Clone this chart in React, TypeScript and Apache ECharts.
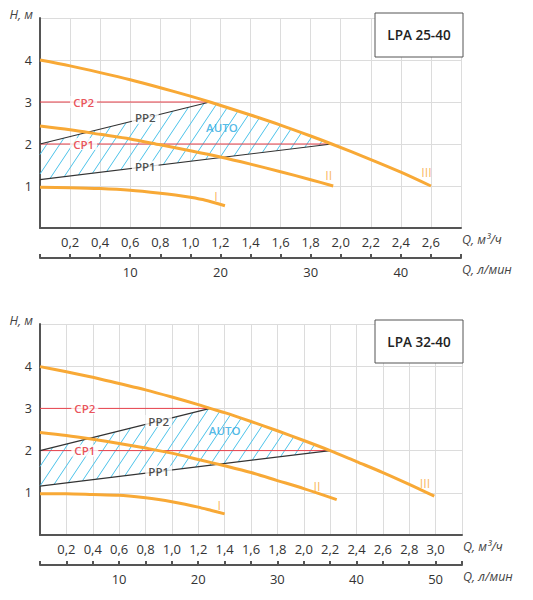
import React, { useEffect, useRef } from "react";
import * as echarts from "echarts";

// ---- LPA 25-40: [Q m3/h, H m] ----
const curveI_25 = [[0, 0.97], [0.2, 0.96], [0.4, 0.94], [0.6, 0.9], [0.8, 0.83], [0.9, 0.785], [1.0, 0.73], [1.1, 0.66], [1.23, 0.53]];
const curveII_25 = [[0, 2.43], [0.2, 2.34], [0.4, 2.23], [0.6, 2.12], [0.8, 1.98], [1.0, 1.84], [1.2, 1.69], [1.4, 1.52], [1.6, 1.34], [1.8, 1.15], [1.95, 1.0]];
const curveIII_25 = [[0, 4.0], [0.2, 3.86], [0.4, 3.7], [0.6, 3.53], [0.8, 3.34], [1.0, 3.14], [1.13, 3.0], [1.4, 2.69], [1.6, 2.45], [1.8, 2.19], [1.94, 2.0], [2.2, 1.63], [2.4, 1.33], [2.6, 1.0]];
const pp1_25 = [[0, 1.15], [1.94, 2.0]];
const pp2_25 = [[0, 2.0], [1.13, 3.0]];
const cp1_25 = [[0, 2], [1.94, 2]];
const cp2_25 = [[0, 3], [1.13, 3]];

// ---- LPA 32-40 ----
const curveI_32 = [[0, 0.98], [0.2, 0.98], [0.4, 0.96], [0.6, 0.94], [0.8, 0.88], [0.9, 0.84], [1.0, 0.79], [1.1, 0.73], [1.2, 0.66], [1.3, 0.58], [1.4, 0.5]];
const curveII_32 = [[0, 2.43], [0.2, 2.36], [0.4, 2.27], [0.6, 2.17], [0.8, 2.06], [1.0, 1.94], [1.2, 1.79], [1.4, 1.64], [1.6, 1.48], [1.8, 1.29], [2.0, 1.1], [2.25, 0.84]];
const curveIII_32 = [[0, 3.99], [0.2, 3.87], [0.4, 3.74], [0.6, 3.59], [0.8, 3.44], [1.0, 3.27], [1.2, 3.09], [1.29, 3.0], [1.4, 2.9], [1.6, 2.69], [1.8, 2.47], [2.0, 2.24], [2.2, 2.0], [2.4, 1.74], [2.6, 1.48], [2.8, 1.2], [2.99, 0.92]];
const pp1_32 = [[0, 1.16], [2.2, 2.0]];
const pp2_32 = [[0, 2.0], [1.29, 3.0]];
const cp1_32 = [[0, 2], [2.2, 2]];
const cp2_32 = [[0, 3], [1.29, 3]];

// axis ranges
const qMax25 = 2.8;
const qMax32 = 3.2;
const hMax = 5;

// annotation anchors [text, Q, H, kind]
const notes25: [string, number, number, string][] = [
  ["CP2", 0.29, 3, "cp"], ["CP1", 0.29, 2, "cp"],
  ["PP2", 0.7, 2.62, "pp"], ["PP1", 0.7, 1.46, "pp"],
  ["AUTO", 1.21, 2.39, "auto"],
  ["I", 1.17, 0.75, "roman"], ["II", 1.92, 1.24, "roman"], ["III", 2.57, 1.31, "roman"],
];
const notes32: [string, number, number, string][] = [
  ["CP2", 0.34, 3, "cp"], ["CP1", 0.34, 2, "cp"],
  ["PP2", 0.9, 2.7, "pp"], ["PP1", 0.9, 1.5, "pp"],
  ["AUTO", 1.4, 2.47, "auto"],
  ["I", 1.36, 0.7, "roman"], ["II", 2.1, 1.14, "roman"], ["III", 2.92, 1.23, "roman"],
];

const ORANGE = "#f8a936";
const RED = "#e8414b";
const CYAN = "#4cc3ea";
const AXIS = "#555";
const GRID = "#dcdcdc";
const FONT = '"Open Sans", sans-serif';

const noteStyle: Record<string, any> = {
  cp: { color: "#e3262f", fontSize: 11.5, fontWeight: 600, backgroundColor: "#fff", padding: [0, 3] },
  pp: { color: "#222", fontSize: 11.5, fontWeight: 600, backgroundColor: "#fff", padding: [0, 3] },
  auto: { color: "#29a8df", fontSize: 11.5, fontWeight: 600 },
  roman: { color: ORANGE, fontSize: 12.5 },
};

function autoPolygon(pp1: number[][], pp2: number[][], iii: number[][]) {
  const qLo = pp2[1][0];
  const qHi = pp1[1][0];
  const mid = iii.filter((p) => p[0] > qLo && p[0] < qHi).reverse();
  return [pp1[0], pp1[1], ...mid, pp2[1], pp2[0]];
}

function hatchSeries(xi: number, yi: number, poly: number[][]) {
  return {
    type: "custom",
    xAxisIndex: xi,
    yAxisIndex: yi,
    data: [[0, 0]],
    silent: true,
    z: 1,
    renderItem: (_params: any, api: any) => {
      const pts = poly.map((p) => api.coord(p));
      const k = 1.5;
      const step = 13;
      const f = (p: number[]) => p[0] + p[1] / k;
      const vals = pts.map(f);
      const lo = Math.min(...vals);
      const hi = Math.max(...vals);
      const children: any[] = [];
      for (let c = Math.ceil(lo / step) * step; c <= hi; c += step) {
        const xs: number[][] = [];
        for (let i = 0; i < pts.length; i++) {
          const a = pts[i];
          const b = pts[(i + 1) % pts.length];
          const fa = f(a) - c;
          const fb = f(b) - c;
          if ((fa < 0) !== (fb < 0)) {
            const t = fa / (fa - fb);
            xs.push([a[0] + t * (b[0] - a[0]), a[1] + t * (b[1] - a[1])]);
          }
        }
        xs.sort((p, q) => p[0] - q[0]);
        for (let j = 0; j + 1 < xs.length; j += 2) {
          children.push({
            type: "line",
            shape: { x1: xs[j][0], y1: xs[j][1], x2: xs[j + 1][0], y2: xs[j + 1][1] },
            style: { stroke: CYAN, lineWidth: 1 },
          });
        }
      }
      return { type: "group", children };
    },
  };
}

function chartSeries(xi: number, yi: number, d: any) {
  const line = (data: number[][], color: string, width: number, smooth: any, z: number) => ({
    type: "line",
    xAxisIndex: xi,
    yAxisIndex: yi,
    data,
    symbol: "none",
    smooth,
    z,
    silent: true,
    lineStyle: { color, width },
  });
  return [
    hatchSeries(xi, yi, autoPolygon(d.pp1, d.pp2, d.iii)),
    line(d.cp1, RED, 1, false, 2),
    line(d.cp2, RED, 1, false, 2),
    line(d.pp1, "#333", 1.2, false, 3),
    line(d.pp2, "#333", 1.2, false, 3),
    line(d.i, ORANGE, 3, 0.25, 4),
    line(d.ii, ORANGE, 3, 0.3, 4),
    line(d.iii, ORANGE, 3, 0.3, 4),
    {
      type: "scatter",
      xAxisIndex: xi,
      yAxisIndex: yi,
      symbolSize: 0,
      silent: true,
      z: 6,
      data: d.notes.map((n: any) => ({
        value: [n[1], n[2]],
        label: { show: true, position: "inside", formatter: n[0], fontFamily: FONT, ...noteStyle[n[3]] },
      })),
    },
  ];
}

const decimal = (max: number) => (v: number) =>
  v <= 0 || v >= max - 1e-6 ? "" : v.toFixed(1).replace(".", ",");
const perMinute = (v: number) => {
  const n = Math.round(v * 10);
  return n > 0 && n % 6 === 0 ? String((n / 6) * 10) : "";
};

function xAxes(grid: number, max: number) {
  const nameStyle = { fontStyle: "italic", color: "#444", fontSize: 12.5, align: "left", verticalAlign: "top", padding: [5, 0, 0, 0] };
  return [
    {
      gridIndex: grid, type: "value", min: 0, max, interval: 0.2,
      axisLine: { show: true, lineStyle: { color: AXIS, width: 2 } },
      axisTick: { show: false },
      splitLine: { show: true, lineStyle: { color: GRID, width: 1 } },
      axisLabel: { formatter: decimal(max), color: "#333", fontSize: 13, margin: 7 },
      name: "Q, м³/ч", nameLocation: "end", nameGap: 1, nameTextStyle: nameStyle,
    },
    {
      gridIndex: grid, type: "value", min: 0, max, interval: 0.2, position: "bottom", offset: 30,
      axisLine: { show: true, lineStyle: { color: AXIS, width: 2 } },
      axisTick: { show: true, inside: true, length: 4, lineStyle: { color: AXIS, width: 2 } },
      splitLine: { show: false },
      axisLabel: { formatter: perMinute, color: "#333", fontSize: 13, margin: 7 },
      name: "Q, л/мин", nameLocation: "end", nameGap: 1, nameTextStyle: nameStyle,
    },
  ];
}

function yAxis(grid: number) {
  return {
    gridIndex: grid, type: "value", min: 0, max: hMax, interval: 1,
    axisLine: { show: true, lineStyle: { color: AXIS, width: 2 } },
    axisTick: { show: false },
    splitLine: { show: true, lineStyle: { color: GRID, width: 1 } },
    axisLabel: {
      formatter: (v: number) => (v === 0 || v === hMax ? "" : String(v)),
      color: "#333", fontSize: 12.5, margin: 8, padding: [0, 0, 7, 0],
    },
    name: "H, м", nameLocation: "end", nameGap: 4,
    nameTextStyle: { fontStyle: "italic", color: "#444", fontSize: 12.5, align: "right", verticalAlign: "middle", padding: [0, 7, 0, 0] },
  };
}

function titleBox(x: number, y: number, w: number, h: number, text: string) {
  return [
    { type: "rect", z: 100, shape: { x, y, width: w, height: h }, style: { fill: "#fff", stroke: "#555", lineWidth: 1 } },
    {
      type: "text", z: 101, x: x + w / 2, y: y + h / 2,
      style: { text, fill: "#222", fontSize: 13.5, fontWeight: 600, fontFamily: FONT, align: "center", verticalAlign: "middle" },
    },
  ];
}

export default function App() {
  const ref = useRef<HTMLDivElement>(null);

  useEffect(() => {
    if (!ref.current) return;
    const chart = echarts.init(ref.current, null, { renderer: "svg" });

    chart.setOption({
      animation: false,
      backgroundColor: "#fff",
      textStyle: { fontFamily: FONT },
      grid: [
        { left: 40, top: 18, width: 421, height: 210 },
        { left: 40, top: 324, width: 422, height: 211 },
      ],
      xAxis: [...xAxes(0, qMax25), ...xAxes(1, qMax32)],
      yAxis: [yAxis(0), yAxis(1)],
      series: [
        ...chartSeries(0, 0, { i: curveI_25, ii: curveII_25, iii: curveIII_25, pp1: pp1_25, pp2: pp2_25, cp1: cp1_25, cp2: cp2_25, notes: notes25 }),
        ...chartSeries(2, 1, { i: curveI_32, ii: curveII_32, iii: curveIII_32, pp1: pp1_32, pp2: pp2_32, cp1: cp1_32, cp2: cp2_32, notes: notes32 }),
      ],
      graphic: [...titleBox(375, 13, 88, 44, "LPA 25-40"), ...titleBox(375, 320, 88, 43, "LPA 32-40")],
    });

    return () => chart.dispose();
  }, []);

  return <div ref={ref} style={{ position: "absolute", left: 0, top: 0, width: 533, height: 600 }} />;
}
